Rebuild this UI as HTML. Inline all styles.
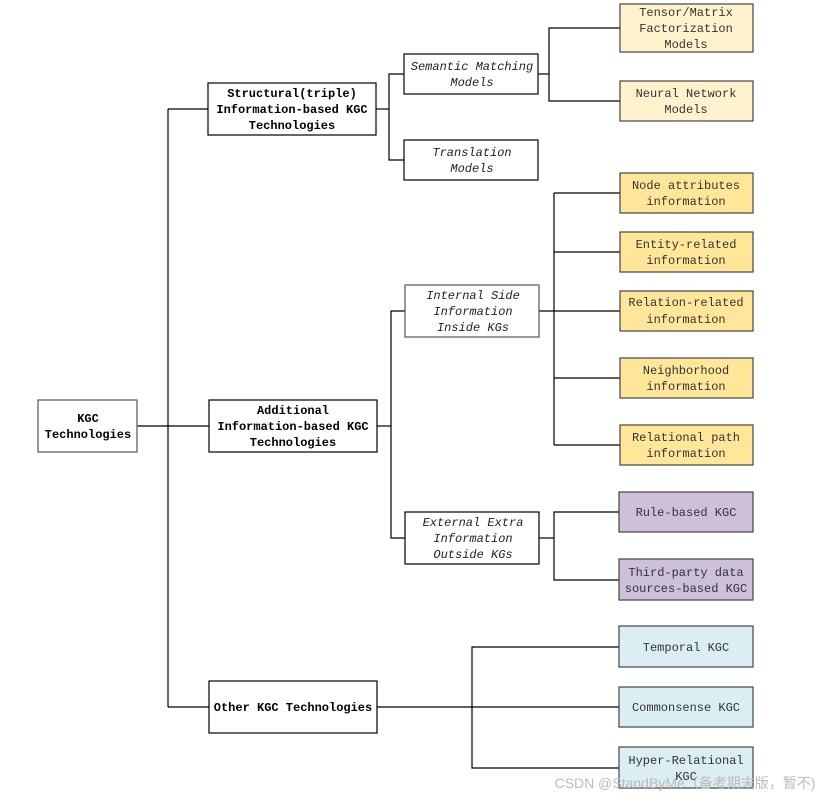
<!DOCTYPE html>
<html><head><meta charset="utf-8"><style>
html,body{margin:0;padding:0;background:#fff;width:836px;height:798px;overflow:hidden}
svg{display:block}
text{font-family:"Liberation Mono","Noto Sans CJK SC",monospace;font-size:12px;text-anchor:middle}
.b{font-weight:bold;fill:#000}
.i{font-style:italic;fill:#222}
.n{fill:#333}
</style></head><body>
<svg width="836" height="798" viewBox="0 0 836 798" xmlns="http://www.w3.org/2000/svg">
<g stroke="#000" stroke-width="1.2" fill="none">
<!-- root -->
<polyline points="168,109 168,707"/>
<line x1="137" y1="426" x2="209" y2="426"/>
<line x1="168" y1="109" x2="208" y2="109"/>
<line x1="168" y1="707" x2="209" y2="707"/>
<!-- structural -->
<line x1="376" y1="109" x2="389" y2="109"/>
<polyline points="404,74 389,74 389,160 404,160"/>
<line x1="538" y1="74" x2="549" y2="74"/>
<polyline points="620,28 549,28 549,101 620,101"/>
<!-- additional -->
<line x1="377" y1="426" x2="391" y2="426"/>
<polyline points="405,311 391,311 391,538 405,538"/>
<line x1="539" y1="311" x2="620" y2="311"/>
<line x1="554" y1="193" x2="554" y2="445"/>
<line x1="554" y1="193" x2="620" y2="193"/>
<line x1="554" y1="252" x2="620" y2="252"/>
<line x1="554" y1="378" x2="620" y2="378"/>
<line x1="554" y1="445" x2="620" y2="445"/>
<line x1="539" y1="538" x2="554" y2="538"/>
<polyline points="619,512 554,512 554,580 619,580"/>
<!-- other -->
<line x1="377" y1="707" x2="619" y2="707"/>
<polyline points="619,647 472,647 472,768 619,768"/>
</g>
<g stroke="#000" stroke-width="1.2">
<rect x="38" y="400" width="99" height="52" fill="#fff" stroke="#555"/>
<rect x="208" y="83" width="168" height="52" fill="#fff"/>
<rect x="209" y="400" width="168" height="52" fill="#fff"/>
<rect x="209" y="681" width="168" height="52" fill="#fff"/>
<rect x="404" y="54" width="134" height="40" fill="#fff"/>
<rect x="404" y="140" width="134" height="40" fill="#fff"/>
<rect x="405" y="285" width="134" height="52" fill="#fff" stroke="#555"/>
<rect x="405" y="512" width="134" height="52" fill="#fff"/>
<g stroke="#444">
<rect x="620" y="4" width="133" height="48" fill="#fff2cc"/>
<rect x="620" y="81" width="133" height="40" fill="#fff2cc"/>
<rect x="620" y="173" width="133" height="40" fill="#ffe699"/>
<rect x="620" y="232" width="133" height="40" fill="#ffe699"/>
<rect x="620" y="291" width="133" height="40" fill="#ffe699"/>
<rect x="620" y="358" width="133" height="40" fill="#ffe699"/>
<rect x="620" y="425" width="133" height="40" fill="#ffe699"/>
<rect x="619" y="492" width="134" height="40" fill="#ccc0da"/>
<rect x="619" y="559" width="134" height="41" fill="#ccc0da"/>
<rect x="619" y="626" width="134" height="41" fill="#dbeef3"/>
<rect x="619" y="687" width="134" height="40" fill="#dbeef3"/>
<rect x="619" y="747" width="134" height="41" fill="#dbeef3"/>
</g>
</g>
<text class="b" x="88" y="422">KGC</text><text class="b" x="88" y="438">Technologies</text>
<text class="b" x="292" y="97">Structural(triple)</text><text class="b" x="292" y="113">Information-based KGC</text><text class="b" x="292" y="129">Technologies</text>
<text class="b" x="293" y="414">Additional</text><text class="b" x="293" y="430">Information-based KGC</text><text class="b" x="293" y="446">Technologies</text>
<text class="b" x="293" y="711">Other KGC Technologies</text>
<text class="i" x="472" y="70">Semantic Matching</text><text class="i" x="472" y="86">Models</text>
<text class="i" x="472" y="156">Translation</text><text class="i" x="472" y="172">Models</text>
<text class="i" x="473" y="299">Internal Side</text><text class="i" x="473" y="315">Information</text><text class="i" x="473" y="331">Inside KGs</text>
<text class="i" x="473" y="526">External Extra</text><text class="i" x="473" y="542">Information</text><text class="i" x="473" y="558">Outside KGs</text>
<text class="n" x="686" y="16">Tensor/Matrix</text><text class="n" x="686" y="32">Factorization</text><text class="n" x="686" y="48">Models</text>
<text class="n" x="686" y="97">Neural Network</text><text class="n" x="686" y="113">Models</text>
<text class="n" x="686" y="189">Node attributes</text><text class="n" x="686" y="205">information</text>
<text class="n" x="686" y="248">Entity-related</text><text class="n" x="686" y="264">information</text>
<text class="n" x="686" y="306">Relation-related</text><text class="n" x="686" y="323">information</text>
<text class="n" x="686" y="374">Neighborhood</text><text class="n" x="686" y="390">information</text>
<text class="n" x="686" y="441">Relational path</text><text class="n" x="686" y="457">information</text>
<text class="n" x="686" y="516">Rule-based KGC</text>
<text class="n" x="686" y="576">Third-party data</text><text class="n" x="686" y="592">sources-based KGC</text>
<text class="n" x="686" y="651">Temporal KGC</text>
<text class="n" x="686" y="711">Commonsense KGC</text>
<text class="n" x="686" y="764">Hyper-Relational</text><text class="n" x="686" y="780">KGC</text>
<text x="685" y="788" style="fill:#bbb;font-family:'Liberation Sans','Noto Sans CJK SC',sans-serif;font-size:14px">CSDN @StandByMe（备考期末版，暂不)</text>
</svg>
</body></html>
